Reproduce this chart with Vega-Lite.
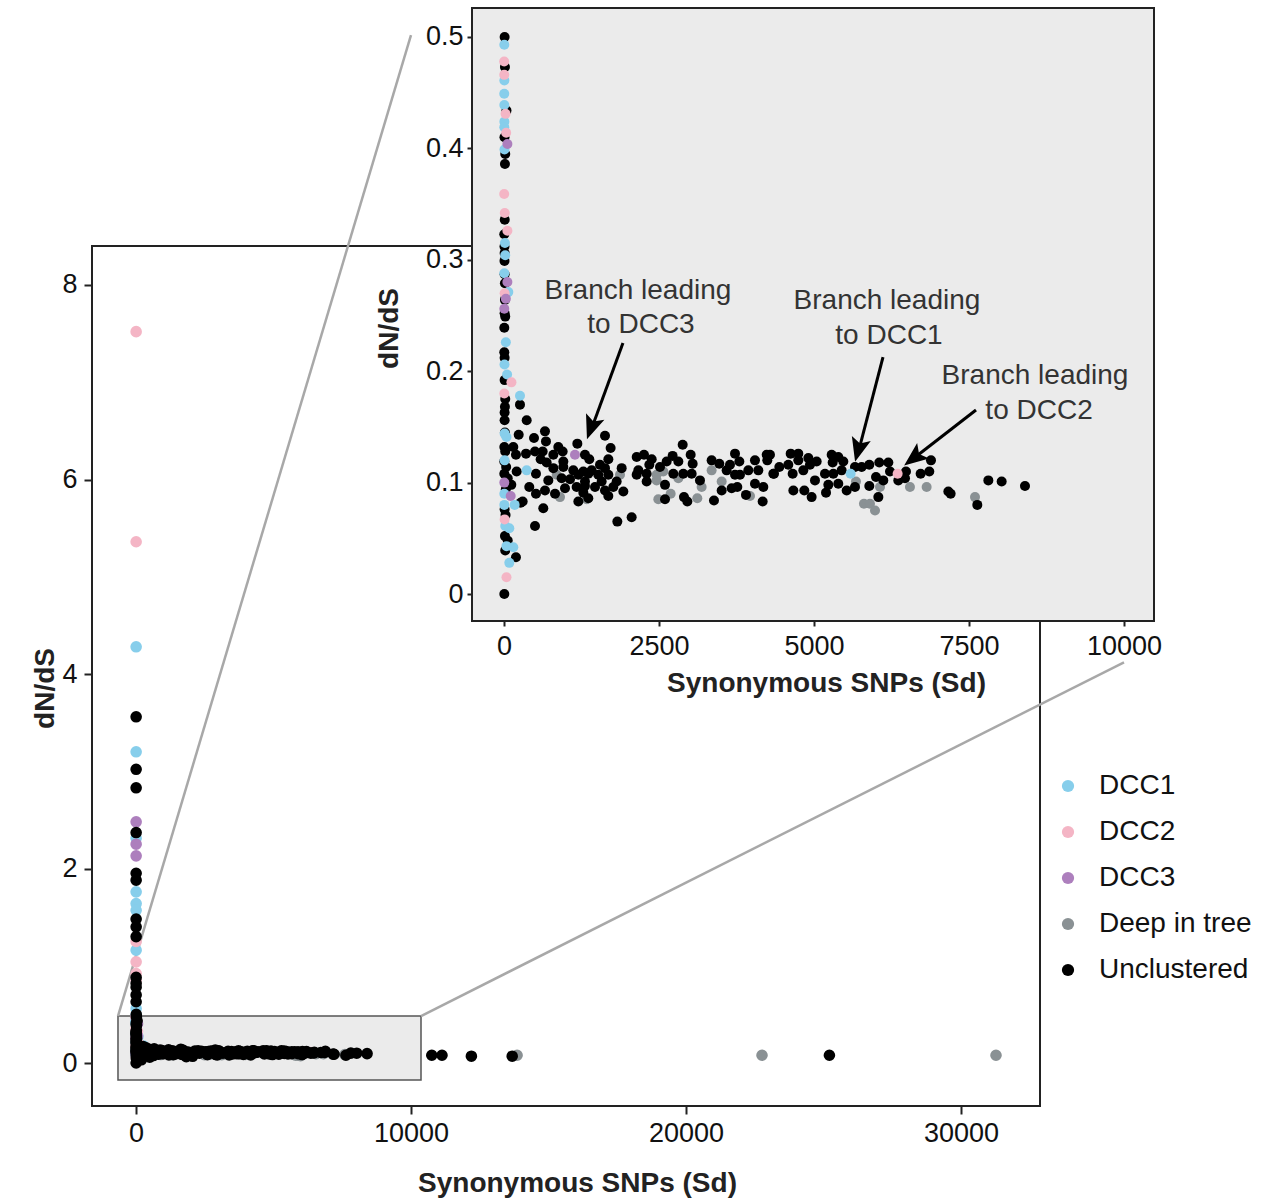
{
  "$schema": "https://vega.github.io/schema/vega-lite/v6.json",
  "width": 1062,
  "height": 1098,
  "autosize": "none",
  "padding": {"left": 92, "top": 8, "right": 117, "bottom": 97},
  "config": {
    "view": {"stroke": null},
    "font": "Liberation Sans, Arial, sans-serif",
    "legend": {"labelFontSize": 28, "labelColor": "#111", "symbolSize": 150, "symbolStrokeWidth": 0, "symbolType": "circle", "rowPadding": 18, "labelOffset": 17, "orient": "none", "legendX": 962, "legendY": 764}
  },
  "datasets": {
    "one": [{}],
    "pts": [
      {"sd": 850, "dnds": 0.107, "group": "Deep in tree"},
      {"sd": 1871, "dnds": 0.107, "group": "Deep in tree"},
      {"sd": 903, "dnds": 0.087, "group": "Deep in tree"},
      {"sd": 1334, "dnds": 0.085, "group": "Deep in tree"},
      {"sd": 2462, "dnds": 0.107, "group": "Deep in tree"},
      {"sd": 2570, "dnds": 0.110, "group": "Deep in tree"},
      {"sd": 2462, "dnds": 0.102, "group": "Deep in tree"},
      {"sd": 2812, "dnds": 0.104, "group": "Deep in tree"},
      {"sd": 3188, "dnds": 0.096, "group": "Deep in tree"},
      {"sd": 2688, "dnds": 0.090, "group": "Deep in tree"},
      {"sd": 2489, "dnds": 0.085, "group": "Deep in tree"},
      {"sd": 3118, "dnds": 0.086, "group": "Deep in tree"},
      {"sd": 3349, "dnds": 0.111, "group": "Deep in tree"},
      {"sd": 3511, "dnds": 0.101, "group": "Deep in tree"},
      {"sd": 3968, "dnds": 0.088, "group": "Deep in tree"},
      {"sd": 5677, "dnds": 0.101, "group": "Deep in tree"},
      {"sd": 6065, "dnds": 0.096, "group": "Deep in tree"},
      {"sd": 5806, "dnds": 0.081, "group": "Deep in tree"},
      {"sd": 5903, "dnds": 0.081, "group": "Deep in tree"},
      {"sd": 5984, "dnds": 0.075, "group": "Deep in tree"},
      {"sd": 6548, "dnds": 0.096, "group": "Deep in tree"},
      {"sd": 6817, "dnds": 0.096, "group": "Deep in tree"},
      {"sd": 7597, "dnds": 0.087, "group": "Deep in tree"},
      {"sd": 13858, "dnds": 0.08, "group": "Deep in tree"},
      {"sd": 22764, "dnds": 0.08, "group": "Deep in tree"},
      {"sd": 31273, "dnds": 0.08, "group": "Deep in tree"},

      {"sd": 5, "dnds": 3.56, "group": "Unclustered"},
      {"sd": 5, "dnds": 3.02, "group": "Unclustered"},
      {"sd": 5, "dnds": 2.83, "group": "Unclustered"},
      {"sd": 5, "dnds": 2.37, "group": "Unclustered"},
      {"sd": 5, "dnds": 1.95, "group": "Unclustered"},
      {"sd": 5, "dnds": 1.88, "group": "Unclustered"},
      {"sd": 5, "dnds": 1.48, "group": "Unclustered"},
      {"sd": 5, "dnds": 1.40, "group": "Unclustered"},
      {"sd": 5, "dnds": 1.30, "group": "Unclustered"},
      {"sd": 5, "dnds": 0.88, "group": "Unclustered"},
      {"sd": 5, "dnds": 0.82, "group": "Unclustered"},
      {"sd": 5, "dnds": 0.78, "group": "Unclustered"},
      {"sd": 5, "dnds": 0.70, "group": "Unclustered"},
      {"sd": 5, "dnds": 0.63, "group": "Unclustered"},
      {"sd": 10, "dnds": 0.500, "group": "Unclustered"},
      {"sd": 15, "dnds": 0.473, "group": "Unclustered"},
      {"sd": 40, "dnds": 0.434, "group": "Unclustered"},
      {"sd": 8, "dnds": 0.410, "group": "Unclustered"},
      {"sd": 20, "dnds": 0.395, "group": "Unclustered"},
      {"sd": 15, "dnds": 0.386, "group": "Unclustered"},
      {"sd": 12, "dnds": 0.336, "group": "Unclustered"},
      {"sd": 5, "dnds": 0.323, "group": "Unclustered"},
      {"sd": 8, "dnds": 0.312, "group": "Unclustered"},
      {"sd": 10, "dnds": 0.306, "group": "Unclustered"},
      {"sd": 8, "dnds": 0.299, "group": "Unclustered"},
      {"sd": 10, "dnds": 0.287, "group": "Unclustered"},
      {"sd": 15, "dnds": 0.279, "group": "Unclustered"},
      {"sd": 15, "dnds": 0.264, "group": "Unclustered"},
      {"sd": 10, "dnds": 0.252, "group": "Unclustered"},
      {"sd": 20, "dnds": 0.249, "group": "Unclustered"},
      {"sd": 5, "dnds": 0.239, "group": "Unclustered"},
      {"sd": 5, "dnds": 0.217, "group": "Unclustered"},
      {"sd": 10, "dnds": 0.212, "group": "Unclustered"},
      {"sd": 10, "dnds": 0.192, "group": "Unclustered"},
      {"sd": 258, "dnds": 0.170, "group": "Unclustered"},
      {"sd": 20, "dnds": 0.175, "group": "Unclustered"},
      {"sd": 15, "dnds": 0.168, "group": "Unclustered"},
      {"sd": 10, "dnds": 0.163, "group": "Unclustered"},
      {"sd": 10, "dnds": 0.156, "group": "Unclustered"},
      {"sd": 366, "dnds": 0.156, "group": "Unclustered"},
      {"sd": 237, "dnds": 0.143, "group": "Unclustered"},
      {"sd": 484, "dnds": 0.140, "group": "Unclustered"},
      {"sd": 5, "dnds": 0.132, "group": "Unclustered"},
      {"sd": 150, "dnds": 0.132, "group": "Unclustered"},
      {"sd": 193, "dnds": 0.125, "group": "Unclustered"},
      {"sd": 5, "dnds": 0.119, "group": "Unclustered"},
      {"sd": 5, "dnds": 0.108, "group": "Unclustered"},
      {"sd": 204, "dnds": 0.110, "group": "Unclustered"},
      {"sd": 516, "dnds": 0.108, "group": "Unclustered"},
      {"sd": 118, "dnds": 0.098, "group": "Unclustered"},
      {"sd": 408, "dnds": 0.096, "group": "Unclustered"},
      {"sd": 516, "dnds": 0.090, "group": "Unclustered"},
      {"sd": 269, "dnds": 0.082, "group": "Unclustered"},
      {"sd": 10, "dnds": 0.076, "group": "Unclustered"},
      {"sd": 500, "dnds": 0.061, "group": "Unclustered"},
      {"sd": 15, "dnds": 0.052, "group": "Unclustered"},
      {"sd": 20, "dnds": 0.039, "group": "Unclustered"},
      {"sd": 193, "dnds": 0.033, "group": "Unclustered"},
      {"sd": 5, "dnds": 0.000, "group": "Unclustered"},
      {"sd": 20, "dnds": 0.128, "group": "Unclustered"},
      {"sd": 35, "dnds": 0.114, "group": "Unclustered"},
      {"sd": 60, "dnds": 0.104, "group": "Unclustered"},
      {"sd": 30, "dnds": 0.094, "group": "Unclustered"},
      {"sd": 25, "dnds": 0.071, "group": "Unclustered"},
      {"sd": 60, "dnds": 0.048, "group": "Unclustered"},
      {"sd": 15, "dnds": 0.145, "group": "Unclustered"},
      {"sd": 661, "dnds": 0.146, "group": "Unclustered"},
      {"sd": 677, "dnds": 0.137, "group": "Unclustered"},
      {"sd": 1183, "dnds": 0.135, "group": "Unclustered"},
      {"sd": 1629, "dnds": 0.142, "group": "Unclustered"},
      {"sd": 876, "dnds": 0.132, "group": "Unclustered"},
      {"sd": 946, "dnds": 0.128, "group": "Unclustered"},
      {"sd": 1720, "dnds": 0.131, "group": "Unclustered"},
      {"sd": 355, "dnds": 0.126, "group": "Unclustered"},
      {"sd": 500, "dnds": 0.128, "group": "Unclustered"},
      {"sd": 624, "dnds": 0.128, "group": "Unclustered"},
      {"sd": 796, "dnds": 0.125, "group": "Unclustered"},
      {"sd": 1306, "dnds": 0.125, "group": "Unclustered"},
      {"sd": 1376, "dnds": 0.121, "group": "Unclustered"},
      {"sd": 591, "dnds": 0.121, "group": "Unclustered"},
      {"sd": 688, "dnds": 0.118, "group": "Unclustered"},
      {"sd": 957, "dnds": 0.119, "group": "Unclustered"},
      {"sd": 1683, "dnds": 0.121, "group": "Unclustered"},
      {"sd": 796, "dnds": 0.113, "group": "Unclustered"},
      {"sd": 957, "dnds": 0.114, "group": "Unclustered"},
      {"sd": 1118, "dnds": 0.111, "group": "Unclustered"},
      {"sd": 1280, "dnds": 0.110, "group": "Unclustered"},
      {"sd": 1414, "dnds": 0.111, "group": "Unclustered"},
      {"sd": 1548, "dnds": 0.116, "group": "Unclustered"},
      {"sd": 1629, "dnds": 0.113, "group": "Unclustered"},
      {"sd": 1898, "dnds": 0.113, "group": "Unclustered"},
      {"sd": 930, "dnds": 0.104, "group": "Unclustered"},
      {"sd": 1065, "dnds": 0.103, "group": "Unclustered"},
      {"sd": 1199, "dnds": 0.107, "group": "Unclustered"},
      {"sd": 1360, "dnds": 0.108, "group": "Unclustered"},
      {"sd": 1521, "dnds": 0.107, "group": "Unclustered"},
      {"sd": 1683, "dnds": 0.107, "group": "Unclustered"},
      {"sd": 715, "dnds": 0.102, "group": "Unclustered"},
      {"sd": 1306, "dnds": 0.101, "group": "Unclustered"},
      {"sd": 1575, "dnds": 0.101, "group": "Unclustered"},
      {"sd": 1817, "dnds": 0.101, "group": "Unclustered"},
      {"sd": 661, "dnds": 0.093, "group": "Unclustered"},
      {"sd": 984, "dnds": 0.095, "group": "Unclustered"},
      {"sd": 1172, "dnds": 0.096, "group": "Unclustered"},
      {"sd": 1306, "dnds": 0.097, "group": "Unclustered"},
      {"sd": 1468, "dnds": 0.096, "group": "Unclustered"},
      {"sd": 1629, "dnds": 0.093, "group": "Unclustered"},
      {"sd": 1763, "dnds": 0.096, "group": "Unclustered"},
      {"sd": 1925, "dnds": 0.092, "group": "Unclustered"},
      {"sd": 823, "dnds": 0.090, "group": "Unclustered"},
      {"sd": 1280, "dnds": 0.091, "group": "Unclustered"},
      {"sd": 1360, "dnds": 0.086, "group": "Unclustered"},
      {"sd": 1683, "dnds": 0.088, "group": "Unclustered"},
      {"sd": 1199, "dnds": 0.083, "group": "Unclustered"},
      {"sd": 301, "dnds": 0.083, "group": "Unclustered"},
      {"sd": 634, "dnds": 0.077, "group": "Unclustered"},
      {"sd": 1828, "dnds": 0.065, "group": "Unclustered"},
      {"sd": 2059, "dnds": 0.069, "group": "Unclustered"},
      {"sd": 2140, "dnds": 0.123, "group": "Unclustered"},
      {"sd": 2258, "dnds": 0.125, "group": "Unclustered"},
      {"sd": 2382, "dnds": 0.121, "group": "Unclustered"},
      {"sd": 2624, "dnds": 0.119, "group": "Unclustered"},
      {"sd": 2720, "dnds": 0.124, "group": "Unclustered"},
      {"sd": 2882, "dnds": 0.134, "group": "Unclustered"},
      {"sd": 3011, "dnds": 0.125, "group": "Unclustered"},
      {"sd": 3043, "dnds": 0.117, "group": "Unclustered"},
      {"sd": 2167, "dnds": 0.111, "group": "Unclustered"},
      {"sd": 2344, "dnds": 0.116, "group": "Unclustered"},
      {"sd": 2516, "dnds": 0.114, "group": "Unclustered"},
      {"sd": 2812, "dnds": 0.119, "group": "Unclustered"},
      {"sd": 2140, "dnds": 0.107, "group": "Unclustered"},
      {"sd": 2301, "dnds": 0.108, "group": "Unclustered"},
      {"sd": 2731, "dnds": 0.108, "group": "Unclustered"},
      {"sd": 2892, "dnds": 0.108, "group": "Unclustered"},
      {"sd": 3027, "dnds": 0.108, "group": "Unclustered"},
      {"sd": 2301, "dnds": 0.101, "group": "Unclustered"},
      {"sd": 2597, "dnds": 0.098, "group": "Unclustered"},
      {"sd": 3161, "dnds": 0.102, "group": "Unclustered"},
      {"sd": 2597, "dnds": 0.085, "group": "Unclustered"},
      {"sd": 2903, "dnds": 0.087, "group": "Unclustered"},
      {"sd": 2957, "dnds": 0.083, "group": "Unclustered"},
      {"sd": 3349, "dnds": 0.120, "group": "Unclustered"},
      {"sd": 3473, "dnds": 0.117, "group": "Unclustered"},
      {"sd": 3726, "dnds": 0.126, "group": "Unclustered"},
      {"sd": 3796, "dnds": 0.119, "group": "Unclustered"},
      {"sd": 3645, "dnds": 0.116, "group": "Unclustered"},
      {"sd": 4048, "dnds": 0.120, "group": "Unclustered"},
      {"sd": 4237, "dnds": 0.125, "group": "Unclustered"},
      {"sd": 4247, "dnds": 0.120, "group": "Unclustered"},
      {"sd": 3591, "dnds": 0.111, "group": "Unclustered"},
      {"sd": 3726, "dnds": 0.107, "group": "Unclustered"},
      {"sd": 3806, "dnds": 0.107, "group": "Unclustered"},
      {"sd": 3941, "dnds": 0.111, "group": "Unclustered"},
      {"sd": 4102, "dnds": 0.111, "group": "Unclustered"},
      {"sd": 4355, "dnds": 0.108, "group": "Unclustered"},
      {"sd": 4048, "dnds": 0.099, "group": "Unclustered"},
      {"sd": 4183, "dnds": 0.096, "group": "Unclustered"},
      {"sd": 3511, "dnds": 0.093, "group": "Unclustered"},
      {"sd": 3672, "dnds": 0.095, "group": "Unclustered"},
      {"sd": 3763, "dnds": 0.096, "group": "Unclustered"},
      {"sd": 3903, "dnds": 0.089, "group": "Unclustered"},
      {"sd": 3387, "dnds": 0.084, "group": "Unclustered"},
      {"sd": 4172, "dnds": 0.083, "group": "Unclustered"},
      {"sd": 4290, "dnds": 0.125, "group": "Unclustered"},
      {"sd": 4344, "dnds": 0.108, "group": "Unclustered"},
      {"sd": 4441, "dnds": 0.114, "group": "Unclustered"},
      {"sd": 4624, "dnds": 0.126, "group": "Unclustered"},
      {"sd": 4747, "dnds": 0.126, "group": "Unclustered"},
      {"sd": 4586, "dnds": 0.116, "group": "Unclustered"},
      {"sd": 4747, "dnds": 0.120, "group": "Unclustered"},
      {"sd": 4909, "dnds": 0.122, "group": "Unclustered"},
      {"sd": 5043, "dnds": 0.119, "group": "Unclustered"},
      {"sd": 4656, "dnds": 0.108, "group": "Unclustered"},
      {"sd": 4828, "dnds": 0.111, "group": "Unclustered"},
      {"sd": 4935, "dnds": 0.116, "group": "Unclustered"},
      {"sd": 4667, "dnds": 0.093, "group": "Unclustered"},
      {"sd": 4844, "dnds": 0.093, "group": "Unclustered"},
      {"sd": 4962, "dnds": 0.087, "group": "Unclustered"},
      {"sd": 5016, "dnds": 0.102, "group": "Unclustered"},
      {"sd": 5177, "dnds": 0.108, "group": "Unclustered"},
      {"sd": 5194, "dnds": 0.091, "group": "Unclustered"},
      {"sd": 5231, "dnds": 0.098, "group": "Unclustered"},
      {"sd": 5285, "dnds": 0.125, "group": "Unclustered"},
      {"sd": 5392, "dnds": 0.123, "group": "Unclustered"},
      {"sd": 5301, "dnds": 0.118, "group": "Unclustered"},
      {"sd": 5473, "dnds": 0.119, "group": "Unclustered"},
      {"sd": 5312, "dnds": 0.108, "group": "Unclustered"},
      {"sd": 5446, "dnds": 0.111, "group": "Unclustered"},
      {"sd": 5392, "dnds": 0.099, "group": "Unclustered"},
      {"sd": 5527, "dnds": 0.093, "group": "Unclustered"},
      {"sd": 5661, "dnds": 0.114, "group": "Unclustered"},
      {"sd": 5661, "dnds": 0.096, "group": "Unclustered"},
      {"sd": 5769, "dnds": 0.114, "group": "Unclustered"},
      {"sd": 5892, "dnds": 0.116, "group": "Unclustered"},
      {"sd": 5892, "dnds": 0.097, "group": "Unclustered"},
      {"sd": 6000, "dnds": 0.105, "group": "Unclustered"},
      {"sd": 6118, "dnds": 0.102, "group": "Unclustered"},
      {"sd": 6053, "dnds": 0.118, "group": "Unclustered"},
      {"sd": 6199, "dnds": 0.118, "group": "Unclustered"},
      {"sd": 6226, "dnds": 0.110, "group": "Unclustered"},
      {"sd": 6038, "dnds": 0.087, "group": "Unclustered"},
      {"sd": 6360, "dnds": 0.102, "group": "Unclustered"},
      {"sd": 6468, "dnds": 0.104, "group": "Unclustered"},
      {"sd": 6484, "dnds": 0.110, "group": "Unclustered"},
      {"sd": 6720, "dnds": 0.108, "group": "Unclustered"},
      {"sd": 6860, "dnds": 0.110, "group": "Unclustered"},
      {"sd": 6887, "dnds": 0.120, "group": "Unclustered"},
      {"sd": 7167, "dnds": 0.092, "group": "Unclustered"},
      {"sd": 7204, "dnds": 0.090, "group": "Unclustered"},
      {"sd": 7634, "dnds": 0.080, "group": "Unclustered"},
      {"sd": 7812, "dnds": 0.102, "group": "Unclustered"},
      {"sd": 8027, "dnds": 0.101, "group": "Unclustered"},
      {"sd": 8403, "dnds": 0.097, "group": "Unclustered"},
      {"sd": 10756, "dnds": 0.08, "group": "Unclustered"},
      {"sd": 11127, "dnds": 0.08, "group": "Unclustered"},
      {"sd": 12196, "dnds": 0.07, "group": "Unclustered"},
      {"sd": 13680, "dnds": 0.07, "group": "Unclustered"},
      {"sd": 25215, "dnds": 0.08, "group": "Unclustered"},

      {"sd": 5, "dnds": 4.28, "group": "DCC1"},
      {"sd": 5, "dnds": 3.20, "group": "DCC1"},
      {"sd": 5, "dnds": 2.31, "group": "DCC1"},
      {"sd": 5, "dnds": 1.76, "group": "DCC1"},
      {"sd": 5, "dnds": 1.64, "group": "DCC1"},
      {"sd": 5, "dnds": 1.57, "group": "DCC1"},
      {"sd": 5, "dnds": 1.16, "group": "DCC1"},
      {"sd": 5, "dnds": 0.56, "group": "DCC1"},
      {"sd": 5, "dnds": 0.493, "group": "DCC1"},
      {"sd": 6, "dnds": 0.461, "group": "DCC1"},
      {"sd": 4, "dnds": 0.449, "group": "DCC1"},
      {"sd": 5, "dnds": 0.439, "group": "DCC1"},
      {"sd": 6, "dnds": 0.424, "group": "DCC1"},
      {"sd": 5, "dnds": 0.419, "group": "DCC1"},
      {"sd": 8, "dnds": 0.399, "group": "DCC1"},
      {"sd": 15, "dnds": 0.315, "group": "DCC1"},
      {"sd": 20, "dnds": 0.304, "group": "DCC1"},
      {"sd": 5, "dnds": 0.288, "group": "DCC1"},
      {"sd": 70, "dnds": 0.271, "group": "DCC1"},
      {"sd": 30, "dnds": 0.226, "group": "DCC1"},
      {"sd": 8, "dnds": 0.206, "group": "DCC1"},
      {"sd": 50, "dnds": 0.197, "group": "DCC1"},
      {"sd": 258, "dnds": 0.178, "group": "DCC1"},
      {"sd": 10, "dnds": 0.144, "group": "DCC1"},
      {"sd": 40, "dnds": 0.141, "group": "DCC1"},
      {"sd": 10, "dnds": 0.120, "group": "DCC1"},
      {"sd": 366, "dnds": 0.111, "group": "DCC1"},
      {"sd": 5, "dnds": 0.090, "group": "DCC1"},
      {"sd": 5, "dnds": 0.080, "group": "DCC1"},
      {"sd": 172, "dnds": 0.080, "group": "DCC1"},
      {"sd": 20, "dnds": 0.061, "group": "DCC1"},
      {"sd": 86, "dnds": 0.059, "group": "DCC1"},
      {"sd": 40, "dnds": 0.043, "group": "DCC1"},
      {"sd": 150, "dnds": 0.042, "group": "DCC1"},
      {"sd": 86, "dnds": 0.028, "group": "DCC1"},
      {"sd": 5591, "dnds": 0.108, "group": "DCC1"},

      {"sd": 5, "dnds": 7.52, "group": "DCC2"},
      {"sd": 5, "dnds": 5.36, "group": "DCC2"},
      {"sd": 5, "dnds": 1.25, "group": "DCC2"},
      {"sd": 5, "dnds": 1.04, "group": "DCC2"},
      {"sd": 5, "dnds": 0.92, "group": "DCC2"},
      {"sd": 5, "dnds": 0.85, "group": "DCC2"},
      {"sd": 3, "dnds": 0.478, "group": "DCC2"},
      {"sd": 4, "dnds": 0.466, "group": "DCC2"},
      {"sd": 25, "dnds": 0.431, "group": "DCC2"},
      {"sd": 35, "dnds": 0.414, "group": "DCC2"},
      {"sd": 3, "dnds": 0.359, "group": "DCC2"},
      {"sd": 12, "dnds": 0.342, "group": "DCC2"},
      {"sd": 55, "dnds": 0.326, "group": "DCC2"},
      {"sd": 10, "dnds": 0.270, "group": "DCC2"},
      {"sd": 120, "dnds": 0.190, "group": "DCC2"},
      {"sd": 5, "dnds": 0.180, "group": "DCC2"},
      {"sd": 10, "dnds": 0.067, "group": "DCC2"},
      {"sd": 40, "dnds": 0.015, "group": "DCC2"},
      {"sd": 6349, "dnds": 0.108, "group": "DCC2"},

      {"sd": 5, "dnds": 2.48, "group": "DCC3"},
      {"sd": 5, "dnds": 2.25, "group": "DCC3"},
      {"sd": 5, "dnds": 2.13, "group": "DCC3"},
      {"sd": 55, "dnds": 0.404, "group": "DCC3"},
      {"sd": 55, "dnds": 0.280, "group": "DCC3"},
      {"sd": 30, "dnds": 0.265, "group": "DCC3"},
      {"sd": 5, "dnds": 0.256, "group": "DCC3"},
      {"sd": 5, "dnds": 0.100, "group": "DCC3"},
      {"sd": 108, "dnds": 0.088, "group": "DCC3"},
      {"sd": 1145, "dnds": 0.125, "group": "DCC3"}
    ],
    "connectors": [
      {"sd": -655, "dnds": 0.483, "sd2": 10000, "dnds2": 10.57},
      {"sd": 10364, "dnds": 0.483, "sd2": 35927, "dnds2": 4.12}
    ],
    "notes": [
      {"label": "Branch leading", "sd": 2161, "dnds": 0.272},
      {"label": "to DCC3", "sd": 2210, "dnds": 0.2415},
      {"label": "Branch leading", "sd": 6177, "dnds": 0.263},
      {"label": "to DCC1", "sd": 6210, "dnds": 0.2316},
      {"label": "Branch leading", "sd": 8565, "dnds": 0.1957},
      {"label": "to DCC2", "sd": 8630, "dnds": 0.1643}
    ],
    "arrows": [
      {"sd": 1919, "dnds": 0.2253, "sd2": 1430, "dnds2": 0.1510},
      {"sd": 6113, "dnds": 0.2127, "sd2": 5730, "dnds2": 0.1305},
      {"sd": 7613, "dnds": 0.1652, "sd2": 6630, "dnds2": 0.1228}
    ]
  },
  "layer": [
    {
      "layer": [
        {
          "data": {"name": "one"},
          "mark": {"type": "rect", "fillOpacity": 0, "stroke": "#222222", "strokeWidth": 2},
          "encoding": {
            "x": {"datum": -1600, "type": "quantitative",
              "scale": {"domain": [-1600, 32873], "range": [0, 948], "nice": false, "zero": false},
              "axis": {"orient": "bottom", "title": "Synonymous SNPs (Sd)", "values": [0, 10000, 20000, 30000], "format": "d", "domain": false, "grid": false, "tickSize": 8, "tickWidth": 2, "tickColor": "#222", "labelFontSize": 27, "labelColor": "#111", "labelPadding": 6, "labelFlush": false, "labelOverlap": false, "titleFontSize": 28, "titleFontWeight": "bold", "titleColor": "#222", "titleX": 485, "titleY": 77, "titleAlign": "center", "titleBaseline": "middle"}},
            "x2": {"datum": 32873},
            "y": {"datum": -0.442, "type": "quantitative",
              "scale": {"domain": [-0.442, 8.401], "range": [1098, 238], "nice": false, "zero": false},
              "axis": {"orient": "left", "title": "dN/dS", "values": [0, 2, 4, 6, 8], "format": "d", "domain": false, "grid": false, "tickSize": 8, "tickWidth": 2, "tickColor": "#222", "labelFontSize": 27, "labelColor": "#111", "labelPadding": 7, "labelOverlap": false, "labelFlush": false, "titleFontSize": 28, "titleFontWeight": "bold", "titleColor": "#222", "titleX": -47, "titleY": 680, "titleAngle": -90, "titleAlign": "center", "titleBaseline": "middle"}},
            "y2": {"datum": 8.401}
          }
        },
        {
          "data": {"name": "one"},
          "mark": {"type": "rect", "fill": "#EBEBEB", "stroke": "#555555", "strokeWidth": 1.5},
          "encoding": {
            "x": {"datum": -655, "type": "quantitative"},
            "x2": {"datum": 10364},
            "y": {"datum": -0.175, "type": "quantitative"},
            "y2": {"datum": 0.483}
          }
        },
        {
          "data": {"name": "connectors"},
          "mark": {"type": "rule", "color": "#A8A8A8", "strokeWidth": 2.5},
          "encoding": {
            "x": {"field": "sd", "type": "quantitative"},
            "y": {"field": "dnds", "type": "quantitative"},
            "x2": {"field": "sd2"},
            "y2": {"field": "dnds2"}
          }
        },
        {
          "data": {"name": "pts"},
          "mark": {"type": "circle", "size": 135, "opacity": 1},
          "encoding": {
            "x": {"field": "sd", "type": "quantitative"},
            "y": {"field": "dnds", "type": "quantitative"},
            "order": {"field": "group", "type": "nominal", "sort": "ascending"},
            "color": {"field": "group", "type": "nominal",
              "scale": {"domain": ["DCC1", "DCC2", "DCC3", "Deep in tree", "Unclustered"], "range": ["#87CEEB", "#F4B5C5", "#AD7FBD", "#8A9194", "#000000"]},
              "legend": {"title": null, "orient": "none", "legendX": 962, "legendY": 764}}
          }
        }
      ]
    },
    {
      "layer": [
        {
          "data": {"name": "one"},
          "mark": {"type": "rect", "fill": "#EBEBEB", "stroke": "#222222", "strokeWidth": 2},
          "encoding": {
            "x": {"datum": -516, "type": "quantitative",
              "scale": {"domain": [-516, 10484], "range": [380, 1062], "nice": false, "zero": false},
              "axis": {"orient": "bottom", "offset": -485, "title": "Synonymous SNPs (Sd)", "values": [0, 2500, 5000, 7500, 10000], "format": "d", "domain": false, "grid": false, "tickSize": 5, "tickWidth": 2, "tickColor": "#222", "labelFontSize": 27, "labelColor": "#111", "labelPadding": 7, "labelFlush": false, "labelOverlap": false, "titleFontSize": 28, "titleFontWeight": "bold", "titleColor": "#222", "titleX": 734, "titleY": 62, "titleAlign": "center", "titleBaseline": "middle"}},
            "x2": {"datum": 10484},
            "y": {"datum": -0.0242, "type": "quantitative",
              "scale": {"domain": [-0.0242, 0.526], "range": [613, 0], "nice": false, "zero": false},
              "axis": {"orient": "left", "offset": -380, "title": "dN/dS", "values": [0, 0.1, 0.2, 0.3, 0.4, 0.5], "format": ".1~f", "domain": false, "grid": false, "tickSize": 5, "tickWidth": 2, "tickColor": "#222", "labelFontSize": 27, "labelColor": "#111", "labelPadding": 4, "labelOverlap": false, "labelFlush": false, "titleFontSize": 28, "titleFontWeight": "bold", "titleColor": "#222", "titleX": -83, "titleY": 320, "titleAngle": -90, "titleAlign": "center", "titleBaseline": "middle"}},
            "y2": {"datum": 0.526}
          }
        },
        {
          "data": {"name": "pts"},
          "transform": [{"filter": "datum.dnds <= 0.52 && datum.sd <= 10400"}],
          "mark": {"type": "circle", "size": 100, "opacity": 1},
          "encoding": {
            "x": {"field": "sd", "type": "quantitative"},
            "y": {"field": "dnds", "type": "quantitative"},
            "color": {"field": "group", "type": "nominal"}
          }
        },
        {
          "data": {"name": "arrows"},
          "mark": {"type": "rule", "color": "#000000", "strokeWidth": 3},
          "encoding": {
            "x": {"field": "sd", "type": "quantitative"},
            "y": {"field": "dnds", "type": "quantitative"},
            "x2": {"field": "sd2"},
            "y2": {"field": "dnds2"}
          }
        },
        {
          "data": {"name": "one"},
          "mark": {"type": "point", "shape": "M0,-1L0.75,0.85L0,0.45L-0.75,0.85Z", "filled": true, "color": "#000000", "opacity": 1, "size": 680, "angle": 200},
          "encoding": {"x": {"datum": 1410, "type": "quantitative"}, "y": {"datum": 0.1500, "type": "quantitative"}}
        },
        {
          "data": {"name": "one"},
          "mark": {"type": "point", "shape": "M0,-1L0.75,0.85L0,0.45L-0.75,0.85Z", "filled": true, "color": "#000000", "opacity": 1, "size": 680, "angle": 195},
          "encoding": {"x": {"datum": 5717, "type": "quantitative"}, "y": {"datum": 0.1300, "type": "quantitative"}}
        },
        {
          "data": {"name": "one"},
          "mark": {"type": "point", "shape": "M0,-1L0.75,0.85L0,0.45L-0.75,0.85Z", "filled": true, "color": "#000000", "opacity": 1, "size": 680, "angle": 232},
          "encoding": {"x": {"datum": 6620, "type": "quantitative"}, "y": {"datum": 0.1225, "type": "quantitative"}}
        },
        {
          "data": {"name": "notes"},
          "mark": {"type": "text", "fontSize": 28, "color": "#333333", "align": "center", "baseline": "middle"},
          "encoding": {
            "x": {"field": "sd", "type": "quantitative"},
            "y": {"field": "dnds", "type": "quantitative"},
            "text": {"field": "label"}
          }
        }
      ]
    }
  ],
  "resolve": {"scale": {"x": "independent", "y": "independent"}, "axis": {"x": "independent", "y": "independent"}}
}
